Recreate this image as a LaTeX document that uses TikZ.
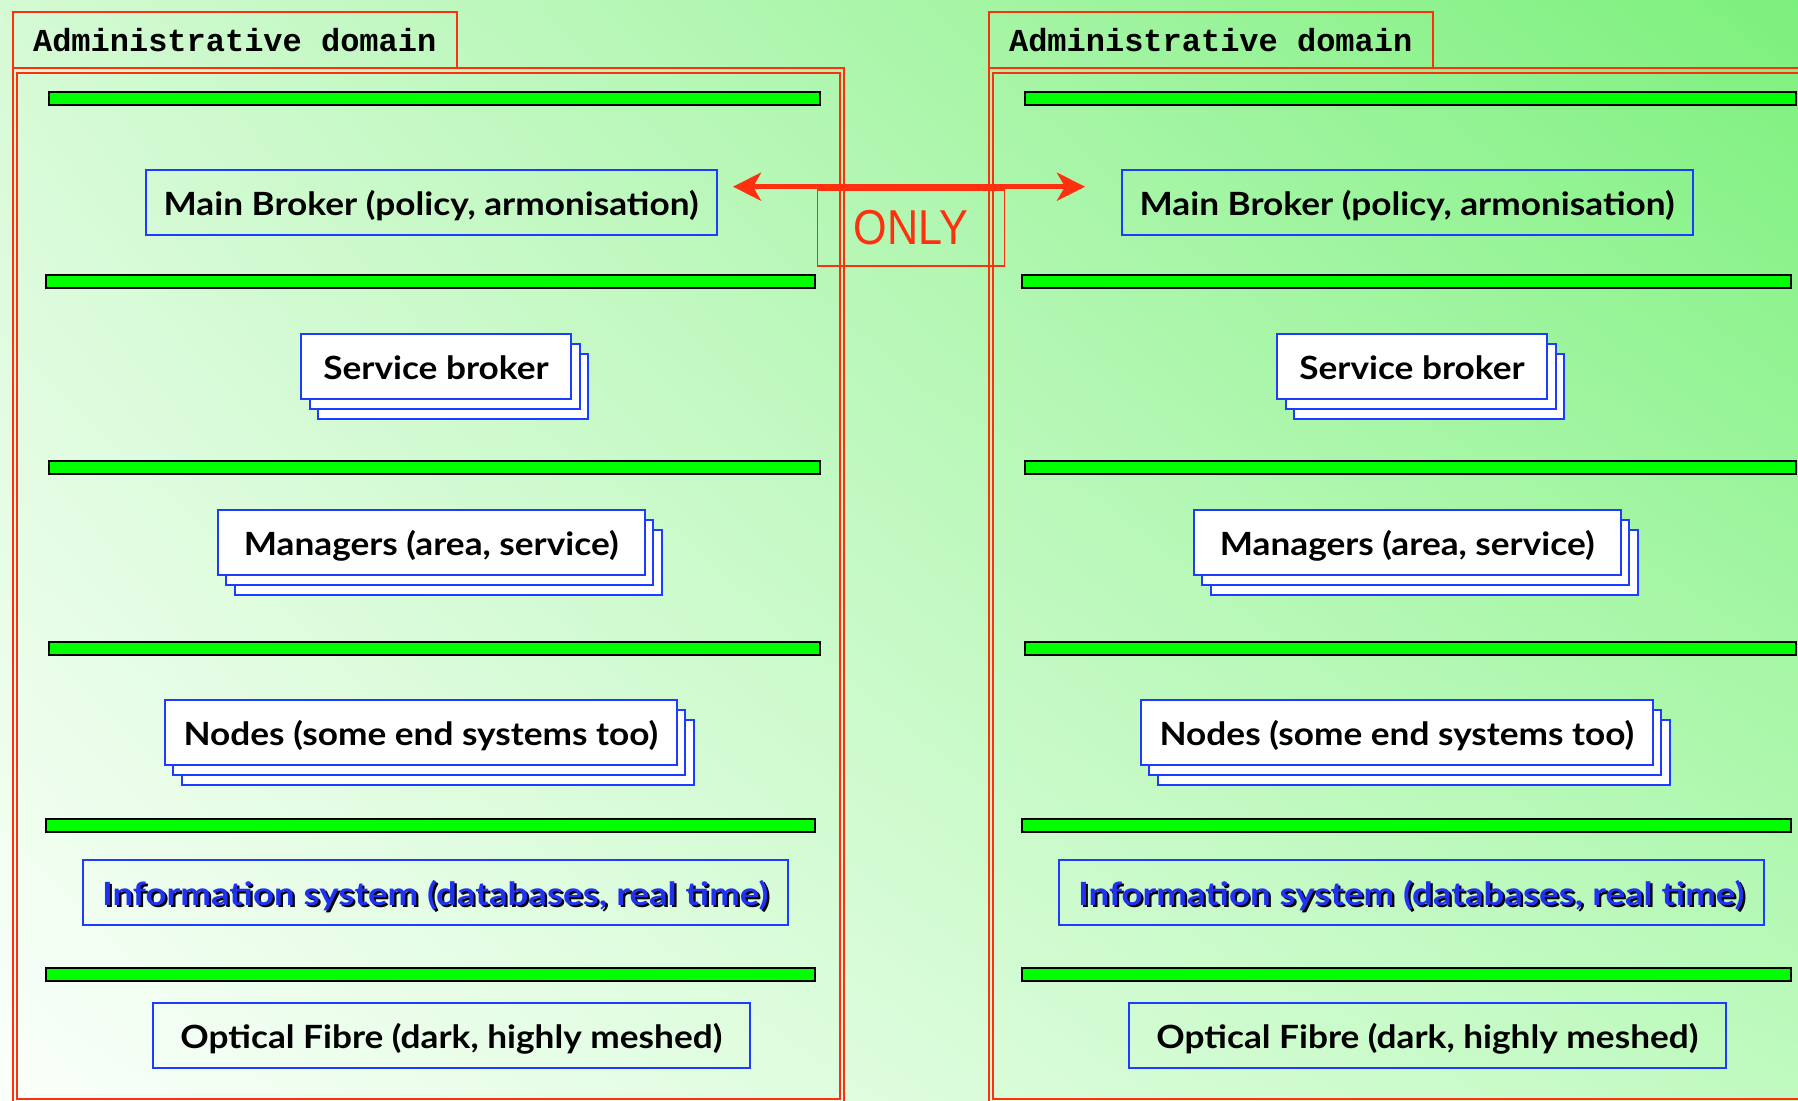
\documentclass[tikz,border=0pt]{standalone}
\usepackage{fontspec}
\usepackage{graphicx}
\setmainfont{Lato}
\newfontfamily\boxfont{Lato}[FakeStretch=1.10]
\newfontfamily\infofont{Lato}[FakeStretch=1.145]
\newfontfamily\titlefont{Liberation Mono}
\newfontfamily\onlyfont{Liberation Sans}
\usetikzlibrary{shadings,shadows,arrows.meta}
\definecolor{framered}{RGB}{255,48,16}
\definecolor{boxblue}{RGB}{30,60,255}
\definecolor{bargreen}{RGB}{0,255,0}
\definecolor{infoblue}{RGB}{30,50,240}
\definecolor{bgUL}{RGB}{212,250,212}
\definecolor{bgUR}{RGB}{124,240,124}
\definecolor{bgLL}{RGB}{250,255,250}
\definecolor{bgLR}{RGB}{192,250,192}
\newcommand\shadowtxt[1]{\makebox[0pt][l]{\hspace{2.2pt}\raisebox{-2.2pt}{\color{black}#1}}{\color{infoblue}#1}}
\tikzset{
  titlebox/.style={draw=framered, line width=2pt, inner sep=0pt,
    minimum width=444pt, minimum height=56pt,
    font=\titlefont\bfseries\fontsize{32}{32}\selectfont},
  frameline/.style={draw=framered, line width=2pt},
  greenbar/.style={fill=bargreen, draw=black, line width=2pt, inner sep=0pt, minimum height=13pt},
  layerbox/.style={draw=boxblue, line width=2pt, inner sep=0pt, minimum height=65pt,
    text height=32pt, text depth=6pt,
    font=\boxfont\bfseries\fontsize{32}{36}\selectfont},
  infobox/.style={layerbox, font=\infofont\bfseries\fontsize{32}{36}\selectfont},
  stackedbox/.style={layerbox, fill=white,
    double copy shadow={shadow xshift=8.5pt, shadow yshift=-10pt, draw=boxblue, fill=white, line width=2pt}},
  onlyarrow/.style={draw=framered, line width=5pt,
    {Stealth[length=28pt,width=28pt,inset=8pt]}-{Stealth[length=28pt,width=28pt,inset=8pt]}}
}
\newcommand\panel[2]{%
  \node[titlebox] (#1title) at ({#2+234.7},39.9) {Administrative domain};
  \draw[frameline] ({#2+12.7},68.3) rectangle ({#2+844},1115);
  \draw[frameline] ({#2+16.9},72.8) rectangle ({#2+839.6},1098.6);
  \node[greenbar, minimum width=771pt] (#1bar1) at ({#2+434.5},98.5) {};
  \node[greenbar, minimum width=769pt] (#1bar2) at ({#2+430.5},281.5) {};
  \node[greenbar, minimum width=771pt] (#1bar3) at ({#2+434.5},467.5) {};
  \node[greenbar, minimum width=771pt] (#1bar4) at ({#2+434.5},648) {};
  \node[greenbar, minimum width=769pt] (#1bar5) at ({#2+430.5},825) {};
  \node[greenbar, minimum width=769pt] (#1bar6) at ({#2+430.5},974) {};
  \node[layerbox, minimum width=571pt] (#1main) at ({#2+431.1},202.3) {Main Broker (policy, armonisation)};
  \node[stackedbox, minimum width=270pt] (#1serv) at ({#2+436},366) {Service broker};
  \node[stackedbox, minimum width=427pt] (#1mgr) at ({#2+431.2},542.3) {Managers (area, service)};
  \node[stackedbox, minimum width=512pt] (#1nodes) at ({#2+420.8},732) {Nodes (some end systems too)};
  \node[infobox, minimum width=705pt] (#1info) at ({#2+435.2},892.5) {\shadowtxt{Information system (databases, real time)}};
  \node[layerbox, minimum width=597pt] (#1fibre) at ({#2+451.4},1035) {Optical Fibre (dark, highly meshed)};
}
\begin{document}
\begin{tikzpicture}[x=1pt,y=-1pt]
  \useasboundingbox (0,0) rectangle (1798,1100);
  \clip (0,0) rectangle (1798,1100);
  \shade[upper left=bgUL, upper right=bgUR, lower left=bgLL, lower right=bgLR] (0,0) rectangle (1798,1100);
  \panel{L}{0}
  \panel{R}{976}
  \node[draw=framered, line width=1.5pt, inner sep=0pt, minimum width=187pt, minimum height=76pt,
    text=framered, font=\onlyfont\fontsize{49}{49}\selectfont] (only) at (910.8,228) {\scalebox{0.88}[1]{ONLY}};
  \coordinate (arrowL) at (733,186.7);
  \coordinate (arrowR) at (1085,186.7);
  \draw[onlyarrow] (arrowL) -- (arrowR);
\end{tikzpicture}
\end{document}
